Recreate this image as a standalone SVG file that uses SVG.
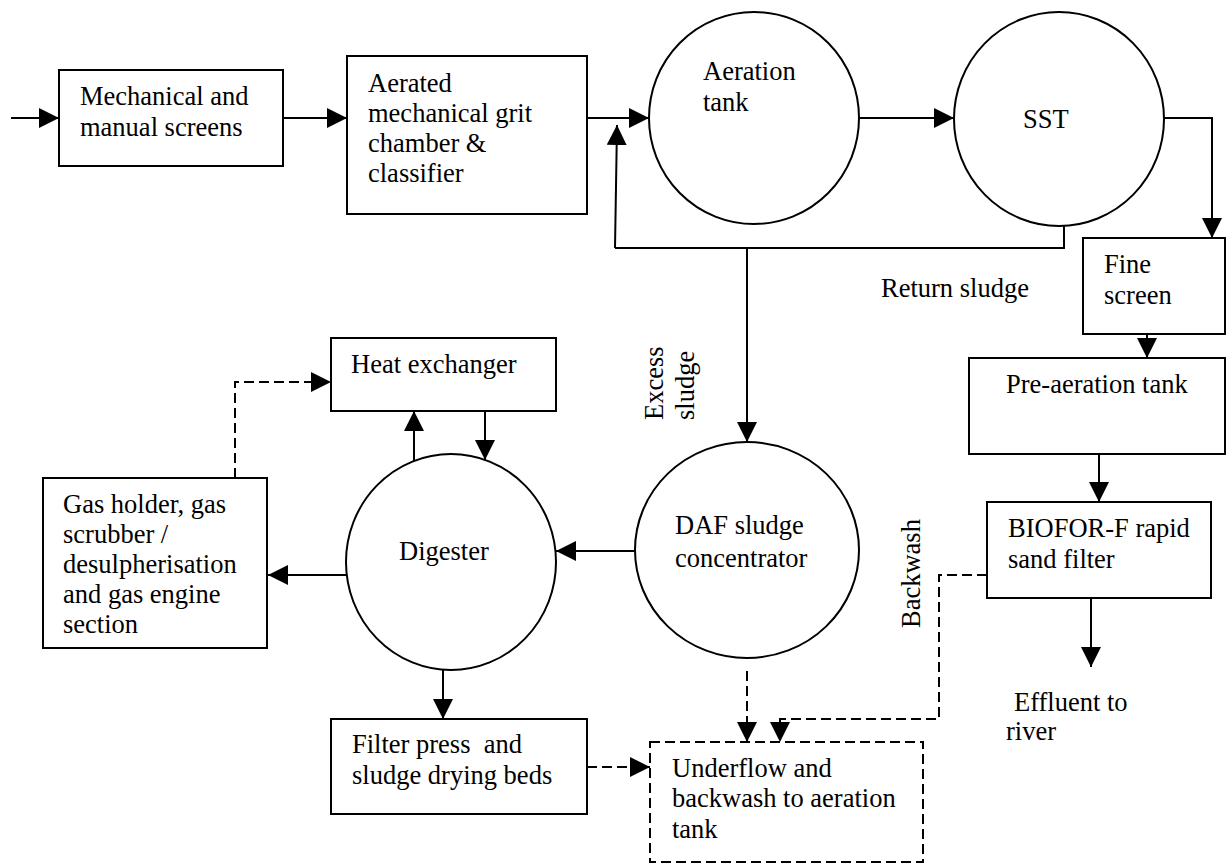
<svg xmlns="http://www.w3.org/2000/svg" width="1227" height="864" viewBox="0 0 1227 864">
<style>
text{font-family:"Liberation Serif","Times New Roman",serif;font-size:26.5px;fill:#000;white-space:pre}
.box{fill:#fff;stroke:#000;stroke-width:2}
.dbox{fill:#fff;stroke:#000;stroke-width:2;stroke-dasharray:10 5}
.ln{fill:none;stroke:#000;stroke-width:2}
.dl{fill:none;stroke:#000;stroke-width:2;stroke-dasharray:10 5}
</style>
<defs>
<marker id="ah" markerUnits="userSpaceOnUse" markerWidth="20" markerHeight="20" refX="20" refY="10" orient="auto" viewBox="0 0 20 20">
<path d="M0,0 L20,10 L0,20 Z" fill="#000" stroke="none"/>
</marker>
</defs>
<rect width="1227" height="864" fill="#fff"/>
<g id="connectors">
<line class="ln" x1="11" y1="118" x2="59" y2="118" marker-end="url(#ah)"/>
<line class="ln" x1="283" y1="118" x2="347" y2="118" marker-end="url(#ah)"/>
<line class="ln" x1="587" y1="118" x2="649" y2="118" marker-end="url(#ah)"/>
<line class="ln" x1="859" y1="118" x2="954" y2="118" marker-end="url(#ah)"/>
<path class="ln" d="M1163,118 H1212 V238" marker-end="url(#ah)"/>
<path class="ln" d="M1064,226 V248 H615"/>
<line class="ln" x1="615" y1="248" x2="617" y2="125" marker-end="url(#ah)"/>
<line class="ln" x1="747" y1="248" x2="747" y2="442" marker-end="url(#ah)"/>
<line class="ln" x1="1147" y1="334" x2="1147" y2="358" marker-end="url(#ah)"/>
<line class="ln" x1="1099" y1="454" x2="1099" y2="502" marker-end="url(#ah)"/>
<line class="ln" x1="1091" y1="598" x2="1091" y2="667" marker-end="url(#ah)"/>
<line class="ln" x1="635" y1="551" x2="556" y2="551" marker-end="url(#ah)"/>
<line class="ln" x1="347" y1="575" x2="268" y2="575" marker-end="url(#ah)"/>
<line class="ln" x1="414" y1="461" x2="414" y2="411" marker-end="url(#ah)"/>
<line class="ln" x1="485" y1="411" x2="485" y2="460" marker-end="url(#ah)"/>
<line class="ln" x1="443" y1="670" x2="443" y2="719" marker-end="url(#ah)"/>
<path class="dl" d="M235,478 V382 H331" marker-end="url(#ah)"/>
<line class="dl" x1="587" y1="767" x2="650" y2="767" marker-end="url(#ah)"/>
<line class="dl" x1="747" y1="671" x2="747" y2="742" marker-end="url(#ah)"/>
<path class="dl" d="M987,575 H939 V719 H780 V742" marker-end="url(#ah)"/>
</g>
<g id="mech-screens"><rect class="box" x="59" y="70" width="224" height="96"/>
<text x="80" y="105">Mechanical and</text><text x="80" y="136">manual screens</text></g>
<g id="grit-chamber"><rect class="box" x="347" y="56" width="240" height="158"/>
<text x="368" y="92">Aerated</text><text x="368" y="122">mechanical grit</text><text x="368" y="152">chamber &amp;</text><text x="368" y="182">classifier</text></g>
<g id="aeration-tank"><ellipse class="box" cx="754" cy="118" rx="105" ry="106"/>
<text x="703" y="80">Aeration</text><text x="703" y="111">tank</text></g>
<g id="sst"><ellipse class="box" cx="1059" cy="119" rx="105" ry="107"/>
<text x="1023" y="128">SST</text></g>
<g id="return-sludge-label"><text x="881" y="297">Return sludge</text></g>
<g id="fine-screen"><rect class="box" x="1083" y="238" width="142" height="96"/>
<text x="1104" y="273">Fine</text><text x="1104" y="304">screen</text></g>
<g id="pre-aeration"><rect class="box" x="969" y="358" width="256" height="96"/>
<text x="1006" y="393">Pre-aeration tank</text></g>
<g id="biofor"><rect class="box" x="987" y="502" width="224" height="96"/>
<text x="1008" y="537">BIOFOR-F rapid</text><text x="1008" y="568">sand filter</text></g>
<g id="effluent"><text x="1014" y="711">Effluent to</text><text x="1006" y="740">river</text></g>
<g id="excess-sludge-label"><text transform="translate(663,420) rotate(-90)">Excess</text><text transform="translate(694,420) rotate(-90)">sludge</text></g>
<g id="backwash-label"><text transform="translate(920,628) rotate(-90)">Backwash</text></g>
<g id="daf"><ellipse class="box" cx="747" cy="550" rx="112" ry="108"/>
<text x="675" y="534">DAF sludge</text><text x="675" y="567">concentrator</text></g>
<g id="digester"><ellipse class="box" cx="451" cy="562" rx="105" ry="108"/>
<text x="399" y="560">Digester</text></g>
<g id="heat-exchanger"><rect class="box" x="331" y="338" width="225" height="73"/>
<text x="351" y="373">Heat exchanger</text></g>
<g id="gas-holder"><rect class="box" x="43" y="478" width="224" height="170"/>
<text x="63" y="513">Gas holder, gas</text><text x="63" y="543">scrubber /</text><text x="63" y="573">desulpherisation</text><text x="63" y="603">and gas engine</text><text x="63" y="633">section</text></g>
<g id="filter-press"><rect class="box" x="331" y="719" width="256" height="95"/>
<text x="352" y="753">Filter press  and</text><text x="352" y="784">sludge drying beds</text></g>
<g id="underflow"><rect class="dbox" x="650" y="742" width="273" height="120"/>
<text x="672" y="777">Underflow and</text><text x="672" y="807">backwash to aeration</text><text x="672" y="838">tank</text></g>
</svg>
